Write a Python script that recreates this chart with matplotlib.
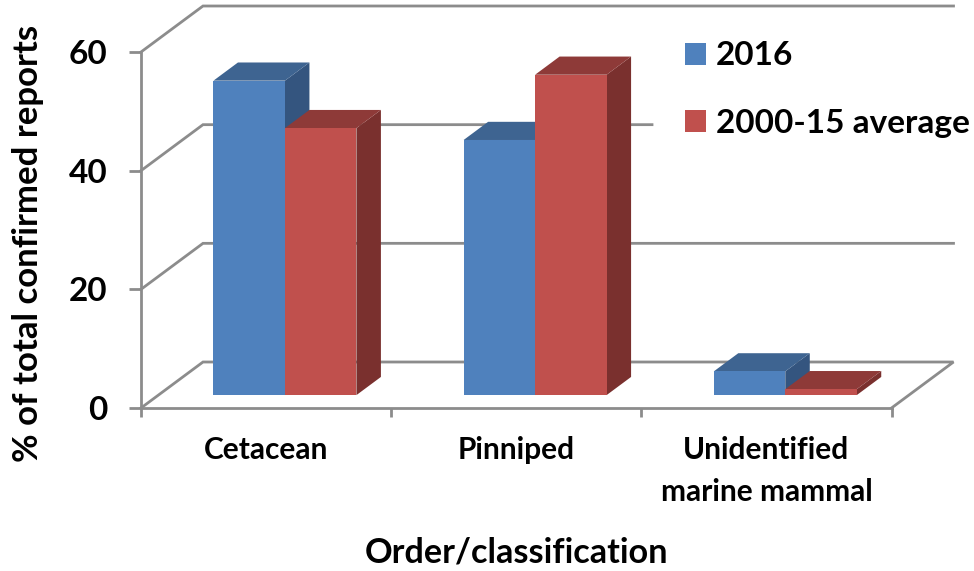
import matplotlib
matplotlib.use("Agg")
import matplotlib.pyplot as plt
from matplotlib.patches import Polygon, Patch

categories = ["Cetacean", "Pinniped", "Unidentified\nmarine mammal"]
series_names = ["2016", "2000-15 average"]
values_2016 = [53, 43, 4]
values_avg = [45, 54, 1]
y_ticks = [0, 20, 40, 60]

W, H = 974, 571
plt.rcParams['font.family'] = ['Lato', 'DejaVu Sans']
plt.rcParams['font.weight'] = 'bold'
GRID = '#8c8c8c'
LW = 2.0

fig = plt.figure(figsize=(W / 100, H / 100), dpi=100, facecolor='white')
L, R, B, T = 141, 891.5, 408, 52
ax = fig.add_axes([L / W, 1 - B / H, (R - L) / W, (B - T) / H])
ax.set_xlim(0, 3)
ax.set_ylim(0, 60)
ax.patch.set_alpha(0)

# oblique depth projection: full chart depth in data units
DX = 62 / ((R - L) / 3)
DY = 46 / ((B - T) / 60)


def proj(x, y, d):
    return (x + d * DX, y + d * DY)


# walls / gridlines
for i, t in enumerate(y_ticks):
    end = 652 if t == 40 else None
    xr = 3 if end is None else (end - L - 62) / ((R - L) / 3)
    pts = [proj(0, t, 0), proj(0, t, 1), proj(xr, t, 1)]
    if t == 0:
        pts.append(proj(3, 0, 0))
    ax.plot(*zip(*pts), color=GRID, lw=LW, clip_on=False, zorder=1,
            solid_joinstyle='miter')

# bars
BAR_W = 1 / 3.5
D0, D1 = 0.28, 0.675
X_SHIFT = 0.006
styles = [('#4F81BD', '#3E6491', '#34557F', '#9DB8D9'),
          ('#C0504D', '#8E3A38', '#7A302E', '#D99694')]
for j, vals in enumerate([values_2016, values_avg]):
    front, top, side, edge = styles[j]
    for i, v in enumerate(vals):
        x0 = i + 0.5 + X_SHIFT - BAR_W + j * BAR_W
        x1 = x0 + BAR_W
        z = 3 + j + i * 2
        ax.add_patch(Polygon([proj(x1, 0, D0), proj(x1, 0, D1), proj(x1, v, D1), proj(x1, v, D0)],
                             fc=side, ec='none', clip_on=False, zorder=z))
        ax.add_patch(Polygon([proj(x0, v, D0), proj(x0, v, D1), proj(x1, v, D1), proj(x1, v, D0)],
                             fc=top, ec='none', clip_on=False, zorder=z))
        ax.add_patch(Polygon([proj(x0, 0, D0), proj(x1, 0, D0), proj(x1, v, D0), proj(x0, v, D0)],
                             fc=front, ec='none', clip_on=False, zorder=z + 0.5))

# axes
for s in ['top', 'right']:
    ax.spines[s].set_visible(False)
for s in ['left', 'bottom']:
    ax.spines[s].set_color(GRID)
    ax.spines[s].set_linewidth(LW)
ax.set_yticks(y_ticks)
ax.tick_params(axis='y', length=8.5, width=LW, color=GRID, labelsize=24, pad=15.5, labelcolor='black')
ax.set_xticks([0, 1, 2, 3])
ax.set_xticklabels([])
ax.set_xticks([0.5, 1.5, 2.5], minor=True)
ax.set_xticklabels(categories, minor=True, fontsize=21.5, linespacing=1.6, va='top')
ax.tick_params(axis='x', which='major', length=6.5, width=LW, color=GRID)
ax.tick_params(axis='x', which='minor', length=0, pad=20.5)
ax.set_ylabel('% of total confirmed reports', fontsize=25, fontweight='bold', va='center')
ax.yaxis.set_label_coords(28 / W, 1 - 243 / H, transform=fig.transFigure)
ax.set_xlabel('Order/classification', fontsize=24.7, fontweight='bold')
ax.xaxis.set_label_coords(516 / W, 1 - 552 / H, transform=fig.transFigure)
ax.xaxis.label.set_va('center')

# legend
handles = [Patch(fc=styles[0][0], ec='none'), Patch(fc=styles[1][0], ec='none')]
leg = ax.legend(handles, series_names, loc='upper left',
                bbox_to_anchor=(671.5 / W, 1 - 28 / H), bbox_transform=fig.transFigure,
                fontsize=24, frameon=False,
                handlelength=0.63, handleheight=0.63, handletextpad=0.3,
                labelspacing=1.15, borderpad=0.4, borderaxespad=0)
leg.set_zorder(2)

fig.savefig('out.png', dpi=100)
